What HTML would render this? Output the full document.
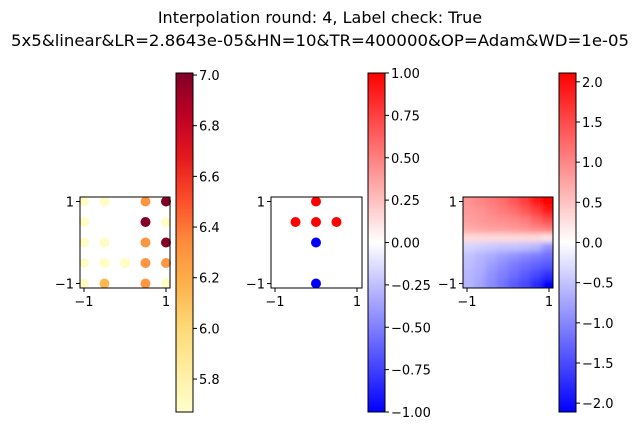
<!DOCTYPE html>
<html><head><meta charset="utf-8"><style>
body{margin:0;background:#fff}
svg text{font-family:"DejaVu Sans","Liberation Sans",sans-serif;fill:#000}
</style></head><body>
<svg id="fig" width="640" height="430" viewBox="0 0 640 430">
<text x="320" y="23" font-size="16" text-anchor="middle">Interpolation round: 4, Label check: True</text>
<text x="320" y="46" font-size="16" text-anchor="middle" textLength="618" lengthAdjust="spacingAndGlyphs">5x5&amp;linear&amp;LR=2.8643e-05&amp;HN=10&amp;TR=400000&amp;OP=Adam&amp;WD=1e-05</text>
<defs>
<linearGradient id="ylorrd" x1="0" y1="1" x2="0" y2="0">
<stop offset="0" stop-color="#ffffcc"/><stop offset="0.125" stop-color="#ffeda0"/><stop offset="0.25" stop-color="#fed976"/><stop offset="0.375" stop-color="#feb24c"/><stop offset="0.5" stop-color="#fd8d3c"/><stop offset="0.625" stop-color="#fc4e2a"/><stop offset="0.75" stop-color="#e31a1c"/><stop offset="0.875" stop-color="#bd0026"/><stop offset="1" stop-color="#800026"/>
</linearGradient>
<linearGradient id="bwr" x1="0" y1="1" x2="0" y2="0">
<stop offset="0" stop-color="#0000ff"/><stop offset="0.5" stop-color="#ffffff"/><stop offset="1" stop-color="#ff0000"/>
</linearGradient>
<clipPath id="hmclip"><rect x="463" y="197" width="90" height="91"/></clipPath>
<filter id="blur" x="-5%" y="-5%" width="110%" height="110%"><feGaussianBlur stdDeviation="3"/></filter>
</defs>
<g id="g1"></g><g id="g2"></g><g id="g3"></g>
</svg>
<script>
// ---- data ----
const gridX = [-1,-0.5,0,0.5,1];
const p1x = [-1,-0.5,0.5,1, -1,0.5,1, -1,-0.5,0.5,1, -1,-0.5,0,0.5,1, -1,-0.5,0.5,1];
const p1y = [1,1,1,1, 0.5,0.5,0.5, 0,0,0,0, -0.5,-0.5,-0.5,-0.5,-0.5, -1,-1,-1,-1];
const p1v = [5.7,5.7,6.3,7.0, 5.7,7.0,5.7, 5.7,5.7,6.3,7.0, 5.7,5.7,5.7,6.3,6.3, 5.7,6.15,6.3,5.7];
const cb1Ticks = [5.8,6.0,6.2,6.4,6.6,6.8,7.0];
const p2x = [0,-0.5,0,0.5,0,0];
const p2y = [1,0.5,0.5,0.5,0,-1];
const p2v = [1,1,1,1,-1,-1];
const cb2Ticks = [-1,-0.75,-0.5,-0.25,0,0.25,0.5,0.75,1];
const hmRows = [
 [0.9,1.0,1.1,1.2,1.4,1.6,1.9,2.1],
 [0.85,0.9,1.0,1.1,1.2,1.4,1.6,1.9],
 [0.8,0.85,0.9,0.95,1.0,1.1,1.3,1.5],
 [0.7,0.75,0.8,0.8,0.85,0.9,1.0,1.1],
 [0.3,0.3,0.3,0.3,0.3,0.3,0.3,0.2],
 [-0.35,-0.4,-0.45,-0.5,-0.5,-0.55,-0.6,-0.9],
 [-0.5,-0.6,-0.7,-0.8,-0.9,-1.0,-1.1,-1.2],
 [-0.55,-0.65,-0.8,-0.95,-1.1,-1.2,-1.3,-1.4],
 [-0.6,-0.7,-0.9,-1.05,-1.2,-1.35,-1.5,-1.7],
 [-0.6,-0.75,-0.95,-1.15,-1.35,-1.5,-1.75,-2.1]
];
const cb3Ticks = [-2,-1.5,-1,-0.5,0,0.5,1,1.5,2];
const NS='http://www.w3.org/2000/svg';
function mk(p,tag,a){const e=document.createElementNS(NS,tag);for(const k in a)e.setAttribute(k,a[k]);p.appendChild(e);return e;}
function fmt(v){return (v<0?'\u2212':'')+Math.abs(v);}
function ylorrd(v,lo,hi){const c=[[255,255,204],[255,237,160],[254,217,118],[254,178,76],[253,141,60],[252,78,42],[227,26,28],[189,0,38],[128,0,38]];let t=Math.max(0,Math.min(1,(v-lo)/(hi-lo)))*8;const i=Math.min(7,Math.floor(t)),f=t-i;const r=c[i].map((x,k)=>Math.round(x+(c[i+1][k]-x)*f));return `rgb(${r})`;}
function bwr(v,m){let t=(v+m)/(2*m);t=Math.max(0,Math.min(1,t));let r,g,b;if(t<0.5){r=g=Math.round(510*t);b=255;}else{r=255;g=b=Math.round(510*(1-t));}return `rgb(${r},${g},${b})`;}
function axes(g,x0,y0,w,h,sx,sy,xt,yt,name){
 const box=mk(g,'rect',{x:x0,y:y0,width:w,height:h,fill:'none',stroke:'#000','stroke-width':1});
 
 
 xt.forEach(v=>{const x=sx(v);mk(g,'line',{x1:x,x2:x,y1:y0+h,y2:y0+h+4,stroke:'#000'});const t=mk(g,'text',{x:x,y:y0+h+18,'font-size':13,'text-anchor':'middle'});t.textContent=fmt(v);
  
  });
 yt.forEach(v=>{const y=sy(v);mk(g,'line',{x1:x0-4,x2:x0,y1:y,y2:y,stroke:'#000'});const t=mk(g,'text',{x:x0-6,y:y+5,'font-size':13,'text-anchor':'end'});t.textContent=fmt(v);
  
  });
}
function cbar(g,x0,y0,w,h,lo,hi,grad,ticks,dec,name){
 const r=mk(g,'rect',{x:x0,y:y0,width:w,height:h,fill:grad,stroke:'#000','stroke-width':1});
 
 
 const sy=v=>y0+h-(v-lo)/(hi-lo)*h;
 ticks.forEach(v=>{const y=sy(v);mk(g,'line',{x1:x0+w,x2:x0+w+4,y1:y,y2:y,stroke:'#000'});const t=mk(g,'text',{x:x0+w+6,y:y+5,'font-size':13});t.textContent=(v<0?'\u2212':'')+Math.abs(v).toFixed(dec);
  
  });
}
// panel 1
const g1=document.getElementById('g1');
const sx1=v=>125+v*41, sy1=v=>242.5-v*41;
const lo1=5.67, hi1=7.008;
p1x.forEach((x,i)=>{const c=mk(g1,'circle',{cx:sx1(x),cy:sy1(p1y[i]),r:5,fill:ylorrd(p1v[i],lo1,hi1)});
 
 });
axes(g1,80,197,90,91,sx1,sy1,[-1,1],[-1,1],'panel-1');
cbar(g1,176,73,17,339,lo1,hi1,'url(#ylorrd)',cb1Ticks,1,'colorbar-1');
// panel 2
const g2=document.getElementById('g2');
const sx2=v=>316+v*41, sy2=v=>242.5-v*41;
p2x.forEach((x,i)=>{const c=mk(g2,'circle',{cx:sx2(x),cy:sy2(p2y[i]),r:5,fill:bwr(p2v[i],1)});
 
 });
axes(g2,271,197,91,91,sx2,sy2,[-1,1],[-1,1],'panel-2');
cbar(g2,368,73,17,339,-1,1,'url(#bwr)',cb2Ticks,2,'colorbar-2');
// panel 3 heatmap
const g3=document.getElementById('g3');
const hm=mk(g3,'g',{'clip-path':'url(#hmclip)'});
const hmInner=mk(hm,'g',{filter:'url(#blur)'});
const nr=hmRows.length, nc=hmRows[0].length, cw=90/nc, ch=91/nr;
hmRows.forEach((row,i)=>row.forEach((v,j)=>{const c=mk(hmInner,'rect',{x:463+j*cw-(j==0?6:0),y:197+i*ch-(i==0?6:0),width:cw+(j==0||j==nc-1?6.5:0.5),height:ch+(i==0||i==nr-1?6.5:0.5),fill:bwr(v,2.11)});
 
 }));
axes(g3,463,197,90,91,v=>508+v*41,v=>242.5-v*41,[-1,1],[-1,1],'panel-3');
cbar(g3,559,73,17,339,-2.11,2.11,'url(#bwr)',cb3Ticks,1,'colorbar-3');
</script>
</body></html>
